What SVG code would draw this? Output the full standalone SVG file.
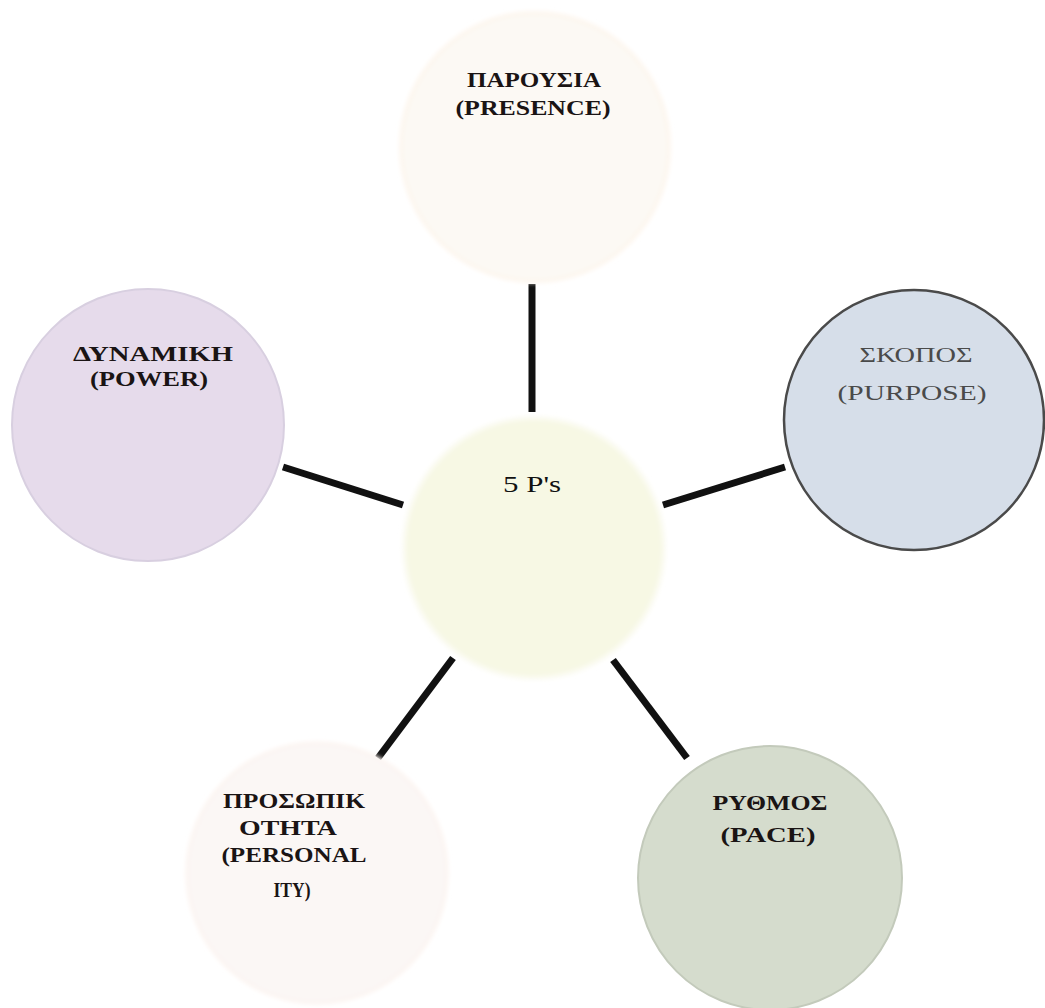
<svg xmlns="http://www.w3.org/2000/svg" width="1045" height="1008" viewBox="0 0 1045 1008">
  <defs>
    <filter id="soft" x="-10%" y="-10%" width="120%" height="120%">
      <feGaussianBlur stdDeviation="2"/>
    </filter>
  </defs>
  <style>
    .lbl { font-family: "Liberation Serif", "Times New Roman", serif; text-anchor: middle; }
    .b { font-weight: bold; fill: #1a1414; }
    .conn { stroke: #111111; stroke-width: 7; stroke-linecap: butt; fill: none; }
  </style>
  <rect width="1045" height="1008" fill="#ffffff"/>

  <g id="connectors">
    <line class="conn" x1="532" y1="284" x2="532" y2="412"/>
    <line class="conn" x1="663" y1="505" x2="785" y2="467"/>
    <line class="conn" x1="283" y1="467" x2="403" y2="505"/>
    <line class="conn" x1="453" y1="658" x2="378" y2="758"/>
    <line class="conn" x1="613" y1="660" x2="687" y2="758"/>
  </g>

  <g id="center">
    <circle cx="534" cy="548" r="130" fill="#f7f8e4" stroke="#fbfbf2" stroke-width="4" filter="url(#soft)"/>
    <text class="lbl" x="532" y="492" font-size="24" fill="#111" textLength="58" lengthAdjust="spacingAndGlyphs">5 P's</text>
  </g>

  <g id="presence">
    <circle cx="535" cy="147" r="134" fill="#fcf9f4" stroke="#fdf6ee" stroke-width="4" filter="url(#soft)"/>
    <text class="lbl b" x="534" y="87" font-size="20" textLength="134" lengthAdjust="spacingAndGlyphs">ΠΑΡΟΥΣΙΑ</text>
    <text class="lbl b" x="533" y="115" font-size="20" textLength="155" lengthAdjust="spacingAndGlyphs">(PRESENCE)</text>
  </g>

  <g id="purpose">
    <circle cx="914" cy="420" r="130" fill="#d6dee9" stroke="#4a4a4a" stroke-width="2.5"/>
    <text class="lbl" x="916" y="362" font-size="22" fill="#4a4a4a" textLength="113" lengthAdjust="spacingAndGlyphs">ΣΚΟΠΟΣ</text>
    <text class="lbl" x="912" y="400" font-size="22" fill="#4a4a4a" textLength="149" lengthAdjust="spacingAndGlyphs">(PURPOSE)</text>
  </g>

  <g id="power">
    <circle cx="148" cy="425" r="136" fill="#e6dbeb" stroke="#d8cfe0" stroke-width="2"/>
    <text class="lbl b" x="153" y="361" font-size="20" textLength="160" lengthAdjust="spacingAndGlyphs">ΔΥΝΑΜΙΚΗ</text>
    <text class="lbl b" x="149" y="386" font-size="20" textLength="118" lengthAdjust="spacingAndGlyphs">(POWER)</text>
  </g>

  <g id="personality">
    <circle cx="317" cy="873" r="130" fill="#fbf7f5" stroke="#fcf4f0" stroke-width="3" filter="url(#soft)"/>
    <text class="lbl b" x="294" y="808" font-size="22" textLength="142" lengthAdjust="spacingAndGlyphs">ΠΡΟΣΩΠΙΚ</text>
    <text class="lbl b" x="288" y="835" font-size="22" textLength="98" lengthAdjust="spacingAndGlyphs">ΟΤΗΤΑ</text>
    <text class="lbl b" x="294" y="862" font-size="22" textLength="145" lengthAdjust="spacingAndGlyphs">(PERSONAL</text>
    <text class="lbl b" x="292" y="897" font-size="22" textLength="37" lengthAdjust="spacingAndGlyphs">ITY)</text>
  </g>

  <g id="pace">
    <circle cx="770" cy="878" r="132" fill="#d5dccd" stroke="#c3cabb" stroke-width="2"/>
    <text class="lbl b" x="770" y="810" font-size="22" fill="#1b241b" textLength="115" lengthAdjust="spacingAndGlyphs">ΡΥΘΜΟΣ</text>
    <text class="lbl b" x="768" y="842" font-size="22" fill="#1b241b" textLength="95" lengthAdjust="spacingAndGlyphs">(PACE)</text>
  </g>
</svg>
